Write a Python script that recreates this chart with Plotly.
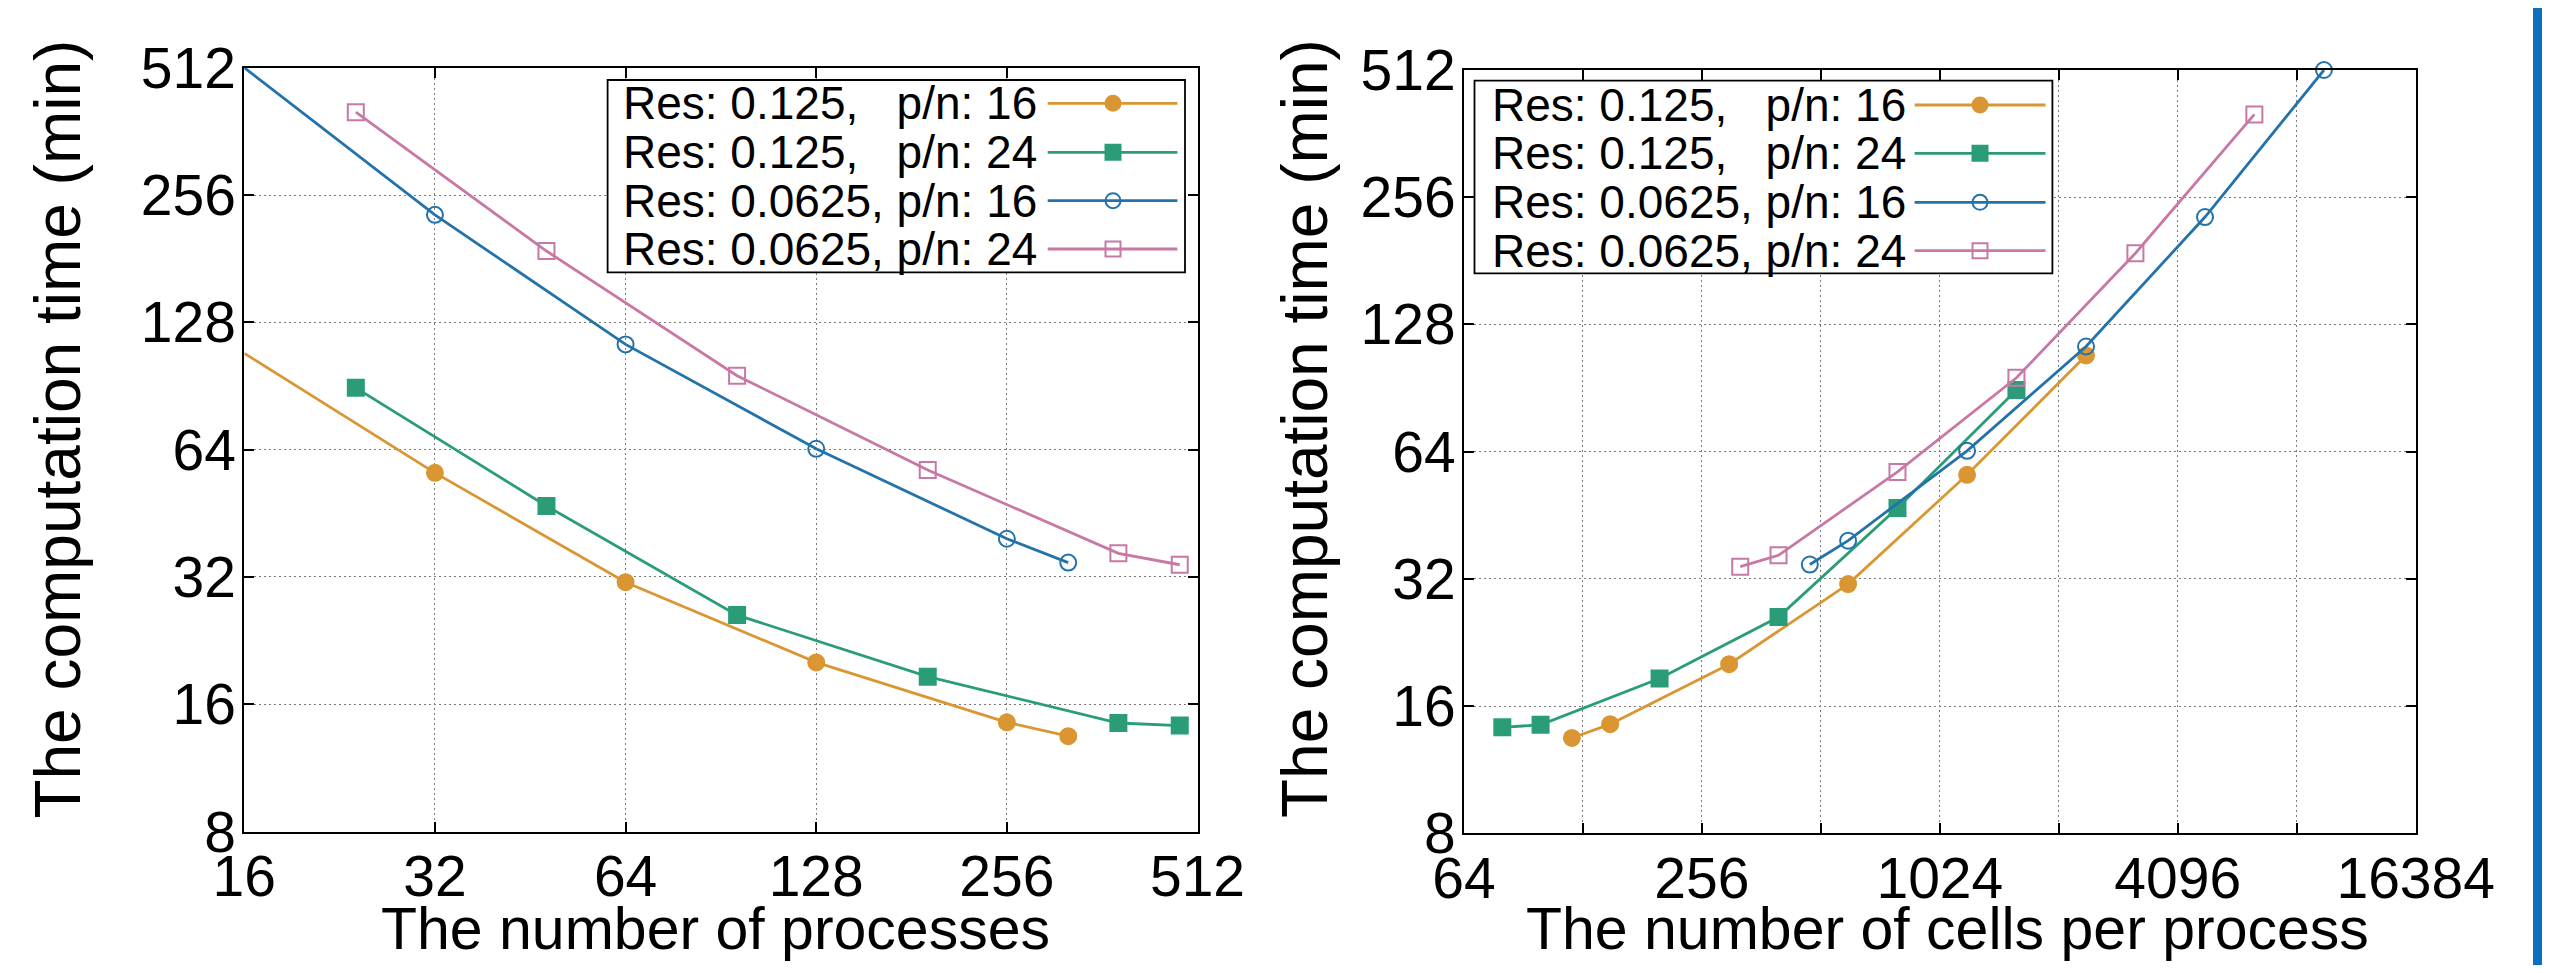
import math
import plotly.graph_objects as go

# the page body adds an 8 px margin; the figure is sized so that the page does not scroll
OFF = 8
FW, FH = 2550 - 2 * OFF, 973 - 2 * OFF

# ---------------- data ----------------
series_names = [
    "Res: 0.125,\u00a0\u00a0\u00a0p/n: 16",
    "Res: 0.125,\u00a0\u00a0\u00a0p/n: 24",
    "Res: 0.0625, p/n: 16",
    "Res: 0.0625, p/n: 24",
]

procs_r0125_pn16 = [16, 32, 64, 128, 256, 320]
procs_r0125_pn24 = [24, 48, 96, 192, 384, 480]
procs_r00625_pn16 = [16, 32, 64, 128, 256, 320]
procs_r00625_pn24 = [24, 48, 96, 192, 384, 480]

cells_r0125_pn16 = [2400, 1200, 600, 300, 150, 120]
cells_r0125_pn24 = [1600, 800, 400, 200, 100, 80]
cells_r00625_pn16 = [9600, 4800, 2400, 1200, 600, 480]
cells_r00625_pn24 = [6400, 3200, 1600, 800, 400, 320]

time_r0125_pn16 = [108.1, 56.4, 31.1, 20.1, 14.5, 13.45]
time_r0125_pn24 = [89.6, 47.1, 26.0, 18.6, 14.45, 14.25]
time_r00625_pn16 = [512, 229.8, 113.5, 64.3, 39.4, 34.6]
time_r00625_pn24 = [402, 188.7, 95.7, 57.3, 36.4, 34.2]

left_x_ticks = [16, 32, 64, 128, 256, 512]
right_x_ticks = [64, 128, 256, 512, 1024, 2048, 4096, 8192, 16384]
right_x_labels = ["64", "", "256", "", "1024", "", "4096", "", "16384"]
y_ticks = [8, 16, 32, 64, 128, 256, 512]

left_x_title = "The number of processes"
right_x_title = "The number of cells per process"
y_title = "The computation time (min)"

# ---------------- styles ----------------
colors = ["#D99632", "#2A9D78", "#2373AA", "#C878A5"]
symbols = ["circle", "square", "circle-open", "square-open"]
FONT = "Liberation Sans, Arial, Helvetica, sans-serif"

procs = [procs_r0125_pn16, procs_r0125_pn24, procs_r00625_pn16, procs_r00625_pn24]
cells = [cells_r0125_pn16, cells_r0125_pn24, cells_r00625_pn16, cells_r00625_pn24]
times = [time_r0125_pn16, time_r0125_pn24, time_r00625_pn16, time_r00625_pn24]

LW = 2.8
MS = 16

fig = go.Figure()
for i in range(4):
    mk = dict(symbol=symbols[i], size=MS, color=colors[i],
              line=dict(width=2, color=colors[i]))
    fig.add_trace(go.Scatter(x=procs[i], y=times[i], mode="lines+markers",
                             line=dict(color=colors[i], width=LW), marker=mk,
                             name=series_names[i], showlegend=False,
                             cliponaxis=False, xaxis="x", yaxis="y"))
    fig.add_trace(go.Scatter(x=cells[i], y=times[i], mode="lines+markers",
                             line=dict(color=colors[i], width=LW), marker=mk,
                             name=series_names[i], showlegend=False,
                             cliponaxis=False, xaxis="x2", yaxis="y2"))


def px(x):
    """screen x (px) -> paper fraction"""
    return (x - OFF) / FW


def py(y):
    """screen y (px, from top) -> paper fraction"""
    return 1 - (y - OFF) / FH


axis_common = dict(
    type="log", showline=True, linecolor="black", linewidth=2, mirror="allticks",
    ticks="inside", ticklen=10, tickwidth=1.5, tickcolor="black",
    showgrid=True, gridcolor="#7a7a7a", gridwidth=1.3, griddash="2px,3px",
    zeroline=False, automargin=False,
    tickfont=dict(family=FONT, size=57, color="black"),
)

fig.update_layout(
    template="none",
    width=FW, height=FH, autosize=False,
    margin=dict(l=0, r=0, t=0, b=0, pad=0, autoexpand=False),
    paper_bgcolor="white", plot_bgcolor="white",
    font=dict(family=FONT, color="black"),
    showlegend=False,
    xaxis=dict(axis_common, domain=[px(244.3), px(1197.5)],
               range=[math.log10(16), math.log10(512)],
               tickvals=left_x_ticks, ticktext=[str(v) for v in left_x_ticks],
               anchor="y", ticklabelstandoff=-6),
    yaxis=dict(axis_common, domain=[py(831.6), py(67.7)],
               range=[math.log10(8), math.log10(512)],
               tickvals=y_ticks, ticktext=[str(v) for v in y_ticks],
               anchor="x", ticklabelstandoff=-5),
    xaxis2=dict(axis_common, domain=[px(1464), px(2415.7)],
                range=[math.log10(64), math.log10(16384)],
                tickvals=right_x_ticks, ticktext=right_x_labels,
                anchor="y2", ticklabelstandoff=-6),
    yaxis2=dict(axis_common, domain=[py(833.3), py(70)],
                range=[math.log10(8), math.log10(512)],
                tickvals=y_ticks, ticktext=[str(v) for v in y_ticks],
                anchor="x2", ticklabelstandoff=-5),
)

shapes = []
annotations = []

# axis titles
for (x, y, txt, ang, fs) in [
    (715.6, 929, left_x_title, 0, 59),
    (1948, 929, right_x_title, 0, 59),
    (57.6, 429, y_title, -90, 64),
    (1305, 429, y_title, -90, 64),
]:
    annotations.append(dict(x=px(x), y=py(y), xref="paper", yref="paper",
                            text=txt, showarrow=False, textangle=ang,
                            xanchor="center", yanchor="middle",
                            font=dict(family=FONT, size=fs, color="black")))

# custom keys (gnuplot style: text, then sample line with marker on the right)
legends = [
    dict(box=(607.6, 80, 1185, 272.3), rows=[103.3, 152.3, 200.7, 249],
         text_right=1039.2, line=(1047.7, 1177.4), mx=1113),
    dict(box=(1474.5, 80.7, 2052.4, 273.3), rows=[105, 153.3, 202.3, 250.7],
         text_right=1907.8, line=(1914.6, 2045.5), mx=1980),
]
r = 7.5
for lg in legends:
    x0, y0, x1, y1 = lg["box"]
    shapes.append(dict(type="rect", xref="paper", yref="paper", layer="above",
                       x0=px(x0), x1=px(x1), y0=py(y1), y1=py(y0),
                       fillcolor="white", line=dict(color="black", width=1.8)))
    for i, ry in enumerate(lg["rows"]):
        annotations.append(dict(x=px(lg["text_right"]), y=py(ry), xref="paper",
                                yref="paper", text=series_names[i], showarrow=False,
                                xanchor="right", yanchor="middle",
                                font=dict(family=FONT, size=46, color="black")))
        shapes.append(dict(type="line", xref="paper", yref="paper", layer="above",
                           x0=px(lg["line"][0]), x1=px(lg["line"][1]),
                           y0=py(ry), y1=py(ry),
                           line=dict(color=colors[i], width=LW)))
        filled = not symbols[i].endswith("open")
        stype = "circle" if symbols[i].startswith("circle") else "rect"
        shapes.append(dict(type=stype, xref="paper", yref="paper", layer="above",
                           x0=px(lg["mx"] - r), x1=px(lg["mx"] + r),
                           y0=py(ry + r), y1=py(ry - r),
                           fillcolor=colors[i] if filled else "rgba(0,0,0,0)",
                           line=dict(color=colors[i], width=2)))

# blue bar at the right edge of the page
shapes.append(dict(type="rect", xref="paper", yref="paper", layer="above",
                   x0=px(2533), x1=px(2550), y0=-0.02, y1=1.02,
                   fillcolor="#0B70BE", line=dict(width=0)))

fig.update_layout(shapes=shapes, annotations=annotations)
fig.write_html("out.html")
